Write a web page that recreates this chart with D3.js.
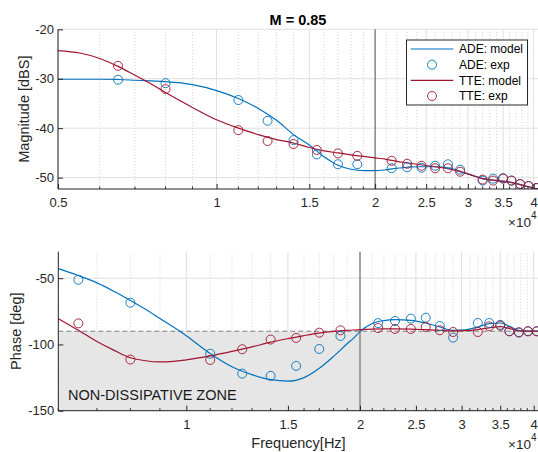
<!DOCTYPE html>
<html>
<head>
<meta charset="utf-8">
<script src="https://cdn.jsdelivr.net/npm/d3@7"></script>
<style>
  body { margin: 0; background: #fff; }
  svg { display: block; font-family: "Liberation Sans", Arial, sans-serif; }
  .tick text { fill: #262626; font-size: 13px; }
</style>
</head>
<body>
<div id="chart"></div>
<script>
// experimental points (same frequencies for ADE and TTE)
const freqExp = [6500, 8000, 11000, 12500, 14000, 15500, 17000, 18500, 21500, 23000, 24500,
  26000, 27500, 29000, 32000, 33500, 35000, 36300, 37700, 39100, 40500];
const adeMagExp = [-30.2, -30.9, -34.3, -38.5, -42.4, -45.3, -47.3, -47.3, -48.1, -47.9, -48.0,
  -47.6, -47.3, -48.4, -50.6, -50.2, -50.1, -50.6, -51.3, -51.7, -52.1];
const tteMagExp = [-27.4, -32.1, -40.4, -42.6, -43.2, -44.4, -45.1, -45.6, -46.6, -47.2, -47.6,
  -48.1, -48.1, -48.8, -50.4, -50.6, -50.2, -50.6, -51.3, -51.7, -52.1];
const adePhaseExp = [-51.2, -68.5, -107, -122, -123.7, -116.2, -103.4, -93.6, -83.9, -82.3, -80.5,
  -79.8, -86.1, -94.8, -83.8, -83.8, -85.2, -90, -91, -90, -90];
const ttePhaseExp = [-84.1, -111.4, -111.7, -103.6, -96.3, -95.1, -91.1, -89.3, -87.6, -88.3, -88.3,
  -86.8, -89.3, -90.6, -90.6, -86.3, -85.8, -90.1, -90.8, -90.1, -90.1];

// model curves, magnitude
const freqMagModel = [5000, 5500, 6000, 6500, 7000, 7500, 8000, 9000, 10000, 11000, 12000, 13000,
  14000, 15000, 16000, 17000, 18000, 19000, 20000, 21000, 22000, 23000, 24000, 26000, 27500,
  29000, 30500, 32000, 34000, 36000, 38000, 40000, 41300];
const adeMagModel = [-30.1, -30.1, -30.1, -30.15, -30.3, -30.45, -30.6, -31.2, -32.4, -34.0, -36.0, -38.4,
  -41.3, -43.4, -45.8, -47.5, -48.3, -48.6, -48.6, -48.4, -48.1, -47.9, -47.8, -47.8, -48.0,
  -48.7, -49.5, -50.2, -50.6, -50.9, -51.5, -52.1, -52.4];
const tteMagModel = [-24.3, -24.8, -25.9, -27.5, -29.3, -31.0, -32.8, -35.8, -38.3, -40.0, -41.3, -42.3,
  -43.0, -43.9, -44.6, -45.0, -45.4, -45.7, -46.0, -46.3, -46.7, -47.0, -47.3, -47.8, -48.2,
  -48.8, -49.5, -50.2, -50.6, -50.9, -51.5, -52.1, -52.4];

// model curves, phase
const freqPhaseModel = [6000, 6500, 7000, 7500, 8000, 8500, 9000, 9500, 10000, 10500, 11000, 12000,
  13000, 14000, 15000, 16000, 17000, 18000, 19000, 19500, 20000, 21000, 22000, 23000, 24500,
  26000, 27500, 29000, 30500, 32000, 33500, 35000, 36500, 38000, 40000, 41300];
const adePhaseModel = [-42.8, -48.0, -53.5, -60.0, -66.8, -73.4, -80.4, -86.9, -93.4, -100.4, -106.8, -116.8,
  -122.8, -126.6, -127.7, -125.0, -118.0, -109.0, -99.5, -95.2, -90.3, -84.2, -82.0, -81.3, -81.8,
  -83.8, -86.8, -89.3, -89.0, -86.8, -84.3, -83.8, -86.8, -89.8, -90.0, -90.0];
const ttePhaseModel = [-80.5, -89.3, -97.8, -104.5, -110.0, -112.3, -113.2, -112.8, -111.6, -110.2, -108.6, -105.2,
  -101.8, -98.3, -95.6, -93.3, -91.4, -90.2, -89.4, -89.1, -88.8, -88.4, -88.3, -88.3, -88.4,
  -88.8, -89.3, -89.8, -89.6, -88.8, -87.5, -86.5, -88.3, -89.9, -90.0, -90.0];

const magTicks = [-50, -40, -30, -20];
const phaseTicks = [-150, -100, -50];
const freqTicksTop = [5000, 10000, 15000, 20000, 25000, 30000, 35000, 40000];
const freqTicksBottom = [10000, 15000, 20000, 25000, 30000, 35000, 40000];

const blue = "#0072bd";
const red = "#a2142f";
const axisColor = "#262626";

const width = 538, height = 452;
const svg = d3.select("#chart").append("svg")
  .attr("width", width).attr("height", height);

const drawPanel = (p) => {
  const g = svg.append("g");
  const [x0, x1] = p.x.range();
  const [y0, y1] = p.y.range(); // y0 bottom, y1 top

  const clipId = "clip-" + p.id;
  svg.append("clipPath").attr("id", clipId)
    .append("rect").attr("x", x0).attr("y", y1).attr("width", x1 - x0).attr("height", y0 - y1);

  // minor grid every 1000 Hz
  const minor = d3.range(Math.ceil(p.x.domain()[0] / 1000) * 1000, p.x.domain()[1], 1000)
    .filter(f => f % 5000 !== 0);
  g.selectAll(".minor-grid").data(minor).join("line")
    .attr("x1", d => p.x(d)).attr("x2", d => p.x(d))
    .attr("y1", y0).attr("y2", y1)
    .attr("stroke", "#c8c8c8").attr("stroke-width", 0.8)
    .attr("stroke-dasharray", "1 2");

  // major grid
  g.selectAll(".vgrid").data(p.xTicks).join("line")
    .attr("x1", d => p.x(d)).attr("x2", d => p.x(d))
    .attr("y1", y0).attr("y2", y1)
    .attr("stroke", "#dfdfdf").attr("stroke-width", 1);
  g.selectAll(".hgrid").data(p.yTicks).join("line")
    .attr("x1", x0).attr("x2", x1)
    .attr("y1", d => p.y(d)).attr("y2", d => p.y(d))
    .attr("stroke", "#dfdfdf").attr("stroke-width", 1);

  if (p.zone) {
    // non dissipative zone below -90 deg
    g.append("rect")
      .attr("x", x0).attr("width", x1 - x0)
      .attr("y", p.y(-90)).attr("height", y0 - p.y(-90))
      .attr("fill", "#e6e6e6");
    g.append("line")
      .attr("x1", x0).attr("x2", x1)
      .attr("y1", p.y(-90)).attr("y2", p.y(-90))
      .attr("stroke", "#7f7f7f").attr("stroke-width", 1)
      .attr("stroke-dasharray", "5 3");
    g.append("text")
      .attr("x", 68).attr("y", 400)
      .attr("font-size", 14.5).attr("fill", "#1a1a1a")
      .text("NON-DISSIPATIVE ZONE");
  }

  // marker at 2e4 Hz
  g.append("line")
    .attr("x1", p.x(20000)).attr("x2", p.x(20000))
    .attr("y1", y0).attr("y2", y1)
    .attr("stroke", "#6e6e6e").attr("stroke-width", 1.2);

  const plot = g.append("g").attr("clip-path", `url(#${clipId})`);
  const line = d3.line()
    .x(d => p.x(d[0]))
    .y(d => p.y(d[1]))
    .curve(d3.curveMonotoneX);

  p.models.forEach(m => {
    plot.append("path")
      .attr("d", line(d3.zip(m.f, m.v)))
      .attr("fill", "none")
      .attr("stroke", m.color)
      .attr("stroke-width", 1.2);
  });
  p.exps.forEach(e => {
    plot.append("g").selectAll("circle")
      .data(d3.zip(freqExp, e.v))
      .join("circle")
      .attr("cx", d => p.x(d[0]))
      .attr("cy", d => p.y(d[1]))
      .attr("r", 4.5)
      .attr("fill", "none")
      .attr("stroke", e.color)
      .attr("stroke-width", 0.9);
  });

  // axes
  const xAxis = d3.axisBottom(p.x)
    .tickValues(p.xTicks)
    .tickFormat(d => String(d / 10000))
    .tickSizeInner(-5).tickSizeOuter(0).tickPadding(9);
  const xg = g.append("g").attr("transform", `translate(0,${y0})`).call(xAxis);
  xg.select(".domain").remove();
  xg.selectAll(".tick line").attr("stroke", axisColor);

  g.selectAll(".minor-tick").data(minor).join("line")
    .attr("x1", d => p.x(d)).attr("x2", d => p.x(d))
    .attr("y1", y0).attr("y2", y0 - 2.5)
    .attr("stroke", axisColor);

  const yAxis = d3.axisLeft(p.y)
    .tickValues(p.yTicks)
    .tickFormat(d => String(d))
    .tickSizeInner(-5).tickSizeOuter(0).tickPadding(4);
  const yg = g.append("g").attr("transform", `translate(${x0},0)`).call(yAxis);
  yg.select(".domain").remove();
  yg.selectAll(".tick line").attr("stroke", axisColor);

  g.append("line").attr("x1", x0).attr("x2", x1).attr("y1", y0).attr("y2", y0)
    .attr("stroke", axisColor);
  g.append("line").attr("x1", x0).attr("x2", x0).attr("y1", y0).attr("y2", y1)
    .attr("stroke", axisColor);

  // axis label
  g.append("text")
    .attr("transform", `translate(${p.labelX},${(y0 + y1) / 2}) rotate(-90)`)
    .attr("text-anchor", "middle")
    .attr("font-size", 14.5).attr("fill", axisColor)
    .text(p.label);

  // x10^4 exponent
  const ex = g.append("text").attr("x", 508).attr("y", y0 + 38)
    .attr("font-size", 13.5).attr("fill", axisColor);
  ex.append("tspan").text("×10");
  ex.append("tspan").attr("dy", -8).attr("font-size", 10).text("4");
};

// top: magnitude
const xTop = d3.scaleLog().domain([5000, 41300]).range([58, 541]);
const yTop = d3.scaleLinear().domain([-52.3, -20]).range([189, 29.3]);
drawPanel({
  id: "mag", x: xTop, y: yTop, xTicks: freqTicksTop, yTicks: magTicks,
  label: "Magnitude [dBS]", labelX: 28.5,
  models: [
    { f: freqMagModel, v: adeMagModel, color: blue },
    { f: freqMagModel, v: tteMagModel, color: red }
  ],
  exps: [
    { v: adeMagExp, color: blue },
    { v: tteMagExp, color: red }
  ]
});

// bottom: phase
const xBot = d3.scaleLog().domain([6000, 41300]).range([58.3, 58.3 + 577 * Math.log10(41300 / 6000)]);
const yBot = d3.scaleLinear().domain([-150, -30]).range([410.7, 251.7]);
drawPanel({
  id: "phase", x: xBot, y: yBot, xTicks: freqTicksBottom, yTicks: phaseTicks,
  label: "Phase [deg]", labelX: 20.5, zone: true,
  models: [
    { f: freqPhaseModel, v: adePhaseModel, color: blue },
    { f: freqPhaseModel, v: ttePhaseModel, color: red }
  ],
  exps: [
    { v: adePhaseExp, color: blue },
    { v: ttePhaseExp, color: red }
  ]
});

// title and x label
svg.append("text")
  .attr("x", 298).attr("y", 25)
  .attr("text-anchor", "middle")
  .attr("font-size", 14.5).attr("font-weight", "bold").attr("fill", "#000")
  .text("M = 0.85");

svg.append("text")
  .attr("x", 298.5).attr("y", 447.5)
  .attr("text-anchor", "middle")
  .attr("font-size", 14.5).attr("fill", axisColor)
  .text("Frequency[Hz]");

// legend
const legendItems = [
  { label: "ADE: model", color: blue, type: "line" },
  { label: "ADE: exp", color: blue, type: "circle" },
  { label: "TTE: model", color: red, type: "line" },
  { label: "TTE: exp", color: red, type: "circle" }
];
const legend = svg.append("g");
legend.append("rect")
  .attr("x", 406.5).attr("y", 40)
  .attr("width", 121).attr("height", 65)
  .attr("fill", "#fff").attr("stroke", axisColor).attr("stroke-width", 1);
const rowY = d3.scalePoint().domain(legendItems.map(d => d.label)).range([49, 96]);
legendItems.forEach(item => {
  const y = rowY(item.label);
  if (item.type === "line") {
    legend.append("line")
      .attr("x1", 410.7).attr("x2", 453.3).attr("y1", y).attr("y2", y)
      .attr("stroke", item.color).attr("stroke-width", 1.2);
  } else {
    legend.append("circle")
      .attr("cx", 432).attr("cy", y).attr("r", 4.5)
      .attr("fill", "none").attr("stroke", item.color).attr("stroke-width", 0.9);
  }
  legend.append("text")
    .attr("x", 459).attr("y", y + 4.3)
    .attr("font-size", 12).attr("fill", "#000")
    .text(item.label);
});
</script>
</body>
</html>
